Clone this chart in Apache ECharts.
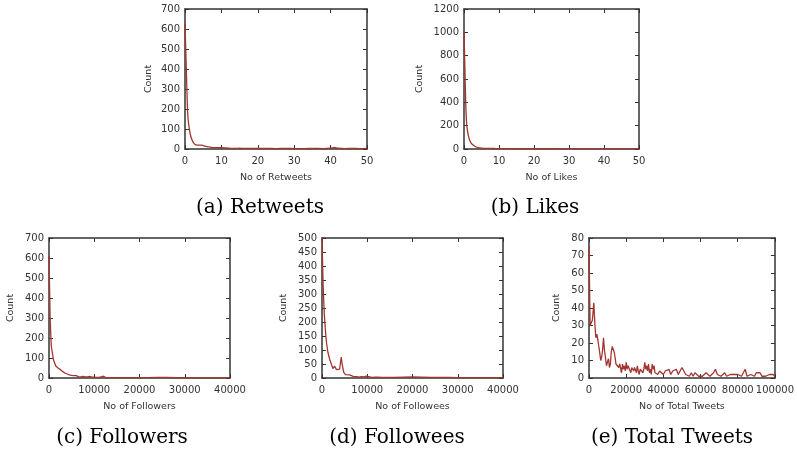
<!DOCTYPE html>
<html>
<head>
<meta charset="utf-8">
<script src="https://cdn.jsdelivr.net/npm/echarts@6/dist/echarts.min.js"></script>
<style>
html,body{margin:0;padding:0;background:#fff;}
#chart{width:797px;height:452px;}
</style>
</head>
<body>
<div id="chart"></div>
<script>
// ---- data ----
const captions = ['(a) Retweets', '(b) Likes', '(c) Followers', '(d) Followees', '(e) Total Tweets'];
const xNames = ['No of Retweets', 'No of Likes', 'No of Followers', 'No of Followees', 'No of Total Tweets'];

const retweets = [[0,628],[0.25,470],[0.5,310],[0.75,175],[1,125],[1.5,70],[2,42],[2.5,27],[3,21],[3.5,19],[4,19],[4.5,19],[5,17],[6,12],[7,9],[8,7],[9,7],[10,7],[11,6],[12,4],[13,3],[14,3],[15,4],[16,3],[18,3],[20,3],[22,3],[25,2],[28,3],[30,2],[33,2],[35,3],[38,2],[40,4],[41,8],[42,4],[44,2],[46,3],[48,2],[50,3]];

const likes = [[0,1010],[0.25,700],[0.5,390],[0.75,220],[1,155],[1.5,85],[2,52],[2.5,36],[3,26],[3.5,17],[4,12],[5,7],[6,6],[7,5],[8,5],[9,4],[10,3],[11,4],[12,3],[14,2],[17,2],[20,2],[25,2],[30,1],[35,1],[40,1],[45,1],[50,1]];

const followers = [[0,610],[250,300],[500,160],[1000,90],[1500,60],[2000,50],[2500,42],[3000,33],[3500,25],[4000,20],[4500,16],[5000,13],[5500,12],[6000,12],[6500,7],[7000,6],[7500,8],[8000,5],[8500,6],[9000,8],[9500,4],[10000,4],[10500,3],[11000,3],[11500,5],[12000,9],[12500,3],[13000,2],[14000,2],[16000,2],[18000,2],[20000,2],[22000,2],[24000,3],[26000,3],[28000,2],[30000,1],[32000,1],[34000,1],[36000,1],[38000,1],[40000,1]];

const followees = [[0,500],[250,330],[500,230],[750,170],[1000,125],[1300,92],[1700,67],[2100,48],[2400,34],[2800,42],[3200,30],[3500,25],[3900,32],[4250,75],[4450,50],[4800,20],[5200,12],[5600,10],[6100,11],[6500,10],[6900,6],[7300,4],[7700,5],[8200,3],[8700,5],[9300,4],[9800,7],[10200,3],[11000,2],[11800,3],[12400,3],[12700,8],[13100,2],[14000,2],[16000,2],[18000,3],[20000,4],[22000,3],[24000,2],[26000,2],[28000,2],[30000,1],[32000,1],[34000,1],[36000,1],[38000,1],[40000,1]];

const totalTweets = [[0,75],[600,30],[1200,29],[1800,33],[2600,43],[3200,30],[3700,23],[4300,25],[5000,20],[5700,15],[6300,10],[6800,12],[7300,16],[7800,23],[8300,16],[8800,12],[9400,7],[9900,9],[10500,11],[11000,6],[11500,8],[12000,15],[12500,18],[13000,17],[13500,15],[14000,12],[14500,8],[15000,7],[15500,7],[16000,6],[16500,8],[17000,9],[17500,3],[18000,8],[18500,5],[19000,7],[19500,4],[20000,9],[20500,5],[21000,7],[21500,6],[22000,8],[22500,3],[23000,6],[23500,5],[24000,4],[24500,6],[25000,5],[25500,3],[26000,7],[26500,4],[27000,2],[27500,5],[28000,4],[28500,6],[29000,3],[29500,5],[30000,9],[30500,5],[31000,7],[31500,4],[32000,8],[32500,3],[33000,5],[33500,2],[34000,8],[34500,5],[35000,7],[35500,3],[36000,4],[37000,2],[38000,4],[39000,3],[40000,2],[41000,4],[42000,3],[43000,5],[44000,2],[45000,4],[46000,3],[47000,5],[48000,2],[49000,3],[50000,6],[51000,4],[52000,2],[53000,3],[54000,1],[55000,3],[56000,1],[57000,3],[58000,4],[59000,1],[60000,2],[61000,1],[62000,2],[63000,3],[64000,2],[65000,1],[66000,2],[67000,3],[68000,5],[69000,2],[70000,3],[71000,1],[72000,2],[73000,3],[74000,1],[75000,2],[76000,2],[77000,1],[78000,2],[79000,1],[80000,2],[81000,3],[82000,1],[83000,2],[84000,5],[85000,1],[86000,1],[87000,2],[88000,2],[89000,1],[90000,3],[91000,2],[92000,3],[93000,1],[94000,2],[95000,1],[96000,2],[97000,2],[98000,3],[99000,2],[100000,1]];

const xMax = [50, 50, 40000, 40000, 100000];
const xStep = [10, 10, 10000, 10000, 20000];
const yMax = [700, 1200, 700, 500, 80];
const yStep = [100, 200, 100, 50, 10];
const seriesData = [retweets, likes, followers, followees, totalTweets];
const smoothFlags = [0.3, 0.3, false, false, false];

// ---- layout ----
const rects = [
  {left:185, top:9, width:182, height:140},
  {left:464, top:9, width:175, height:140},
  {left:49, top:238, width:181, height:140},
  {left:322, top:238, width:181, height:140},
  {left:589, top:238, width:187, height:140}
];
const yNameGaps = [31, 39, 33, 33, 27];
const captionPos = [[260,208],[535,208],[122,438],[397,438],[672,438]];

const axisColor = '#333';
const textColor = '#333';
const lineColor = '#a3352f';
const font = 'DejaVu Sans';
const plain = v => String(v);

const grid = [], xAxis = [], yAxis = [], series = [], graphic = [];
rects.forEach((r, i) => {
  grid.push(Object.assign({containLabel:false}, r));
  const tick = {show:true, inside:true, length:4, lineStyle:{color:axisColor, width:1}};
  const line = {show:true, onZero:false, lineStyle:{color:axisColor, width:1.5}};
  xAxis.push({type:'value', gridIndex:i, min:0, max:xMax[i], interval:xStep[i], position:'bottom',
    name:xNames[i], nameLocation:'middle', nameGap:24,
    nameTextStyle:{fontFamily:font, fontSize:9.5, color:textColor},
    axisLine:line, axisTick:tick, splitLine:{show:false},
    axisLabel:{fontFamily:font, fontSize:10, color:textColor, margin:7, formatter:plain, showMaxLabel:true, showMinLabel:true, hideOverlap:false}});
  xAxis.push({type:'value', gridIndex:i, min:0, max:xMax[i], interval:xStep[i], position:'top',
    axisLine:line, axisTick:tick, splitLine:{show:false}, axisLabel:{show:false}});
  yAxis.push({type:'value', gridIndex:i, min:0, max:yMax[i], interval:yStep[i], position:'left',
    name:'Count', nameLocation:'middle', nameGap:yNameGaps[i], nameRotate:90,
    nameTextStyle:{fontFamily:font, fontSize:9.5, color:textColor},
    axisLine:line, axisTick:tick, splitLine:{show:false},
    axisLabel:{fontFamily:font, fontSize:10, color:textColor, margin:5, formatter:plain}});
  yAxis.push({type:'value', gridIndex:i, min:0, max:yMax[i], interval:yStep[i], position:'right',
    axisLine:line, axisTick:tick, splitLine:{show:false}, axisLabel:{show:false}});
  series.push({type:'line', xAxisIndex:2*i, yAxisIndex:2*i, data:seriesData[i],
    showSymbol:false, smooth:smoothFlags[i], lineStyle:{color:lineColor, width:1.3}, silent:true});
  graphic.push({type:'text', x:captionPos[i][0], y:captionPos[i][1],
    style:{text:captions[i], font:'20px "DejaVu Serif"', fill:'#000', textAlign:'center', textVerticalAlign:'middle'}});
});

const chart = echarts.init(document.getElementById('chart'), null, {renderer:'canvas'});
chart.setOption({animation:false, backgroundColor:'#fff', grid, xAxis, yAxis, series, graphic});
</script>
</body>
</html>
